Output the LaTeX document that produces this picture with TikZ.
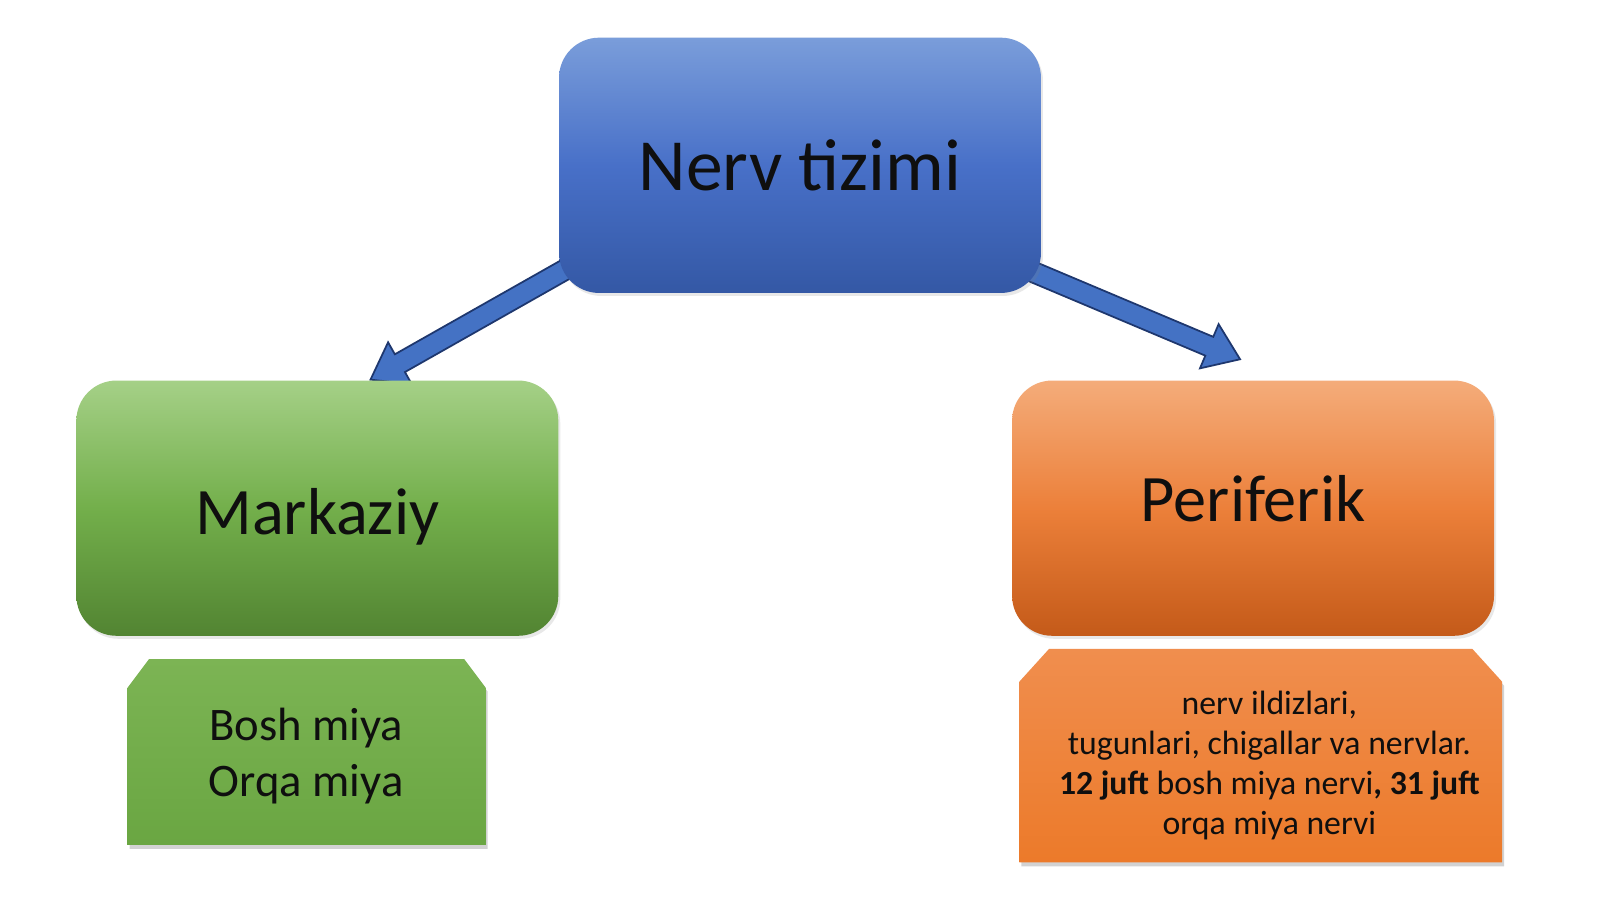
\documentclass[tikz,border=0pt]{standalone}
\usepackage{fontspec}
\setmainfont{Carlito}
\usetikzlibrary{calc,shadows}
\definecolor{bluetop}{RGB}{122,157,218}
\definecolor{bluemid}{RGB}{72,112,200}
\definecolor{bluebot}{RGB}{52,88,165}
\definecolor{greentop}{RGB}{165,208,135}
\definecolor{greenmid}{RGB}{115,175,75}
\definecolor{greenbot}{RGB}{82,132,50}
\definecolor{orangetop}{RGB}{244,172,122}
\definecolor{orangemid}{RGB}{236,128,58}
\definecolor{orangebot}{RGB}{196,90,25}
\definecolor{arrowfill}{RGB}{68,114,196}
\definecolor{arrowline}{RGB}{30,55,110}
\definecolor{txt}{RGB}{15,15,15}
\definecolor{sgreentop}{RGB}{124,180,84}
\definecolor{sgreenbot}{RGB}{106,166,66}
\definecolor{sorangetop}{RGB}{240,142,78}
\definecolor{sorangebot}{RGB}{236,122,42}
\tikzset{
  bigbox/.style={rounded corners=0.4cm, minimum width=4.72cm, minimum height=2.5cm,
     inner sep=0pt, text=txt, font=\fontsize{18.5}{22}\selectfont,
     drop shadow={opacity=0.18, shadow xshift=0.02cm, shadow yshift=-0.03cm}},
  smallshape/.style={drop shadow={opacity=0.35, shadow xshift=0.02cm, shadow yshift=-0.04cm}},
  smalltext/.style={inner sep=0pt, text=txt, align=center},
  blockarrowstyle/.style={fill=arrowfill, draw=arrowline, line width=0.5pt, line join=miter}
}
\newcommand{\blockarrow}[2]{%
  \coordinate (#1-#2-b) at ($(#2)!0.33cm!(#1)$);
  \draw[blockarrowstyle]
    ($(#1)!0.1cm!90:(#2)$) -- ($(#1-#2-b)!0.1cm!-90:(#1)$) --
    ($(#1-#2-b)!0.235cm!-90:(#1)$) -- (#2) --
    ($(#1-#2-b)!0.235cm!90:(#1)$) -- ($(#1-#2-b)!0.1cm!90:(#1)$) --
    ($(#1)!0.1cm!-90:(#2)$) -- cycle;}
\begin{document}
\begin{tikzpicture}[x=0.01cm,y=-0.01cm,scale=1.0204,every node/.append style={transform shape}]
\useasboundingbox (0,0) rectangle (1568,881);
\fill[white] (0,0) rectangle (1568,881);
% arrow anchor coordinates
\coordinate (ls) at (600,238);
\coordinate (lt) at (363,372);
\coordinate (rs) at (985,255);
\coordinate (rt) at (1215,352);
\blockarrow{ls}{lt}
\blockarrow{rs}{rt}
% top box
\node[bigbox, top color=bluetop, bottom color=bluebot, middle color=bluemid,
      font=\fontsize{20.5}{24}\selectfont] (top) at (784,162) {Nerv tizimi};
% level two
\node[bigbox, top color=greentop, bottom color=greenbot, middle color=greenmid] (mark) at (311,498)
  {\raisebox{-0.08cm}[\height][\depth]{Markaziy}};
\node[bigbox, top color=orangetop, bottom color=orangebot, middle color=orangemid] (peri) at (1228,498)
  {\raisebox{0.09cm}[\height][\depth]{Periferik}};
% level three: snipped boxes
\path[smallshape, top color=sgreentop, bottom color=sgreenbot]
  (125,828) -- (125,674) -- (146,646) -- (455,646) -- (476,674) -- (476,828) -- cycle;
\node[smalltext, font=\fontsize{13}{15.8}\selectfont] (cns) at (300,741) {Bosh miya\\Orqa miya};
\path[smallshape, top color=sorangetop, bottom color=sorangebot]
  (999,845) -- (999,668) -- (1028,636) -- (1443,636) -- (1472,668) -- (1472,845) -- cycle;
\node[smalltext, font=\fontsize{9.4}{11.2}\selectfont] (pns) at (1244,750)
  {nerv ildizlari,\\tugunlari, chigallar va nervlar.\\
   \textbf{12 juft} bosh miya nervi\textbf{, 31 juft}\\orqa miya nervi};
\end{tikzpicture}
\end{document}
